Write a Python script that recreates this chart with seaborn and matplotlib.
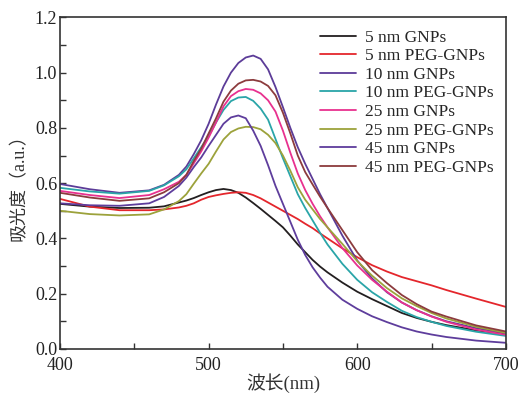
import numpy as np
import pandas as pd
import matplotlib
matplotlib.use('Agg')
import matplotlib.pyplot as plt
import seaborn as sns
from matplotlib.ticker import MultipleLocator

sns.set_theme(style='ticks')
plt.rcParams['font.family'] = ['Liberation Serif', 'Noto Sans CJK SC']

# wavelength grid (nm)
wl = [400, 420, 440, 460, 470, 480, 485, 490, 495, 500, 505, 510, 515, 520, 525, 530,
      535, 540, 545, 550, 555, 560, 565, 570, 575, 580, 590, 600, 610, 620, 630, 640,
      650, 660, 680, 700]

# absorbance
gnp5 = [.525, .515, .510, .511, .516, .530, .537, .546, .557, .567, .575, .579, .575, .565, .548, .528,
        .507, .485, .463, .440, .410, .378, .350, .322, .298, .277, .240, .207, .180, .155, .130, .112,
        .098, .086, .067, .054]
peg5 = [.543, .515, .502, .502, .505, .512, .518, .527, .540, .550, .556, .561, .565, .567, .565, .557,
        .545, .530, .515, .500, .485, .470, .453, .437, .418, .400, .364, .332, .303, .280, .260, .245,
        .230, .213, .182, .152]
gnp10 = [.597, .578, .565, .574, .594, .630, .660, .705, .755, .815, .885, .950, 1.00, 1.035, 1.055, 1.062,
         1.050, 1.012, .948, .875, .800, .730, .670, .615, .560, .510, .410, .320, .255, .205, .168, .140,
         .118, .100, .075, .057]
peg10 = [.583, .570, .562, .572, .592, .625, .650, .690, .730, .770, .820, .865, .897, .910, .912, .898,
         .870, .830, .760, .690, .625, .560, .510, .465, .420, .378, .308, .250, .205, .170, .138, .115,
         .098, .083, .062, .047]
gnp25 = [.572, .557, .546, .557, .578, .605, .630, .672, .715, .765, .820, .878, .915, .933, .941, .938,
         .925, .900, .859, .790, .710, .635, .575, .525, .480, .440, .365, .302, .250, .207, .168, .140,
         .117, .098, .070, .051]
peg25 = [.500, .488, .483, .487, .505, .535, .560, .598, .635, .670, .715, .758, .785, .798, .804, .803,
         .795, .775, .745, .700, .645, .585, .540, .505, .470, .440, .380, .318, .265, .220, .183, .155,
         .130, .110, .080, .058]
gnp45 = [.527, .520, .518, .527, .550, .590, .620, .658, .693, .735, .775, .815, .838, .845, .835, .790,
         .735, .665, .590, .525, .460, .395, .340, .295, .258, .225, .178, .145, .118, .097, .078, .063,
         .052, .043, .030, .022]
peg45 = [.565, .548, .536, .545, .567, .600, .630, .680, .725, .780, .835, .895, .935, .960, .972, .974,
         .968, .952, .918, .855, .780, .700, .640, .595, .551, .510, .430, .350, .285, .238, .195, .162,
         .135, .117, .085, .063]

labels = ['5 nm GNPs', '5 nm PEG-GNPs', '10 nm GNPs', '10 nm PEG-GNPs',
          '25 nm GNPs', '25 nm PEG-GNPs', '45 nm GNPs', '45 nm PEG-GNPs']
series = [gnp5, peg5, gnp10, peg10, gnp25, peg25, gnp45, peg45]
colors = ['#231f20', '#e4262c', '#5c3c98', '#2aa5a8', '#e8318f', '#9ca23b', '#5e3d9c', '#8c3b3d']

df = pd.concat([pd.DataFrame({'wl': wl, 'A': s, 'sample': lab})
                for s, lab in zip(series, labels)], ignore_index=True)

fig = plt.figure(figsize=(5.22, 3.96), dpi=100)
ax = fig.add_axes([0.115, 0.119, 0.854, 0.837])
sns.lineplot(data=df, x='wl', y='A', hue='sample', hue_order=labels,
             palette=colors, linewidth=1.3, errorbar=None, ax=ax)

ax.set_xlim(400, 700)
ax.set_ylim(0, 1.2)
ax.xaxis.set_major_locator(MultipleLocator(100))
ax.xaxis.set_minor_locator(MultipleLocator(50))
ax.yaxis.set_minor_locator(MultipleLocator(0.1))
ax.set_yticks(np.arange(0, 1.21, 0.2))
ax.set_yticklabels([f'{v:.1f}' for v in np.arange(0, 1.21, 0.2)])
ax.tick_params(which='both', direction='in', length=4, width=1, color='#333333',
               labelsize=13, labelcolor='#222222')
ax.tick_params(axis='x', pad=6)
ax.tick_params(axis='y', pad=2)
for sp in ax.spines.values():
    sp.set_color('#333333')
    sp.set_linewidth(1.2)

ax.set_xlabel('波长(nm)', fontsize=13.5, color='#333333', labelpad=-1)
ax.set_ylabel('吸光度（a.u.）', fontsize=13, color='#333333', labelpad=5)

h, l = ax.get_legend_handles_labels()
ax.legend(h, l, loc='upper right', frameon=False, fontsize=12.5,
          handlelength=2.1, handletextpad=0.5, labelspacing=0.14,
          borderaxespad=0.3, bbox_to_anchor=(1.0, 1.0))

fig.savefig('out.png', dpi=100)
